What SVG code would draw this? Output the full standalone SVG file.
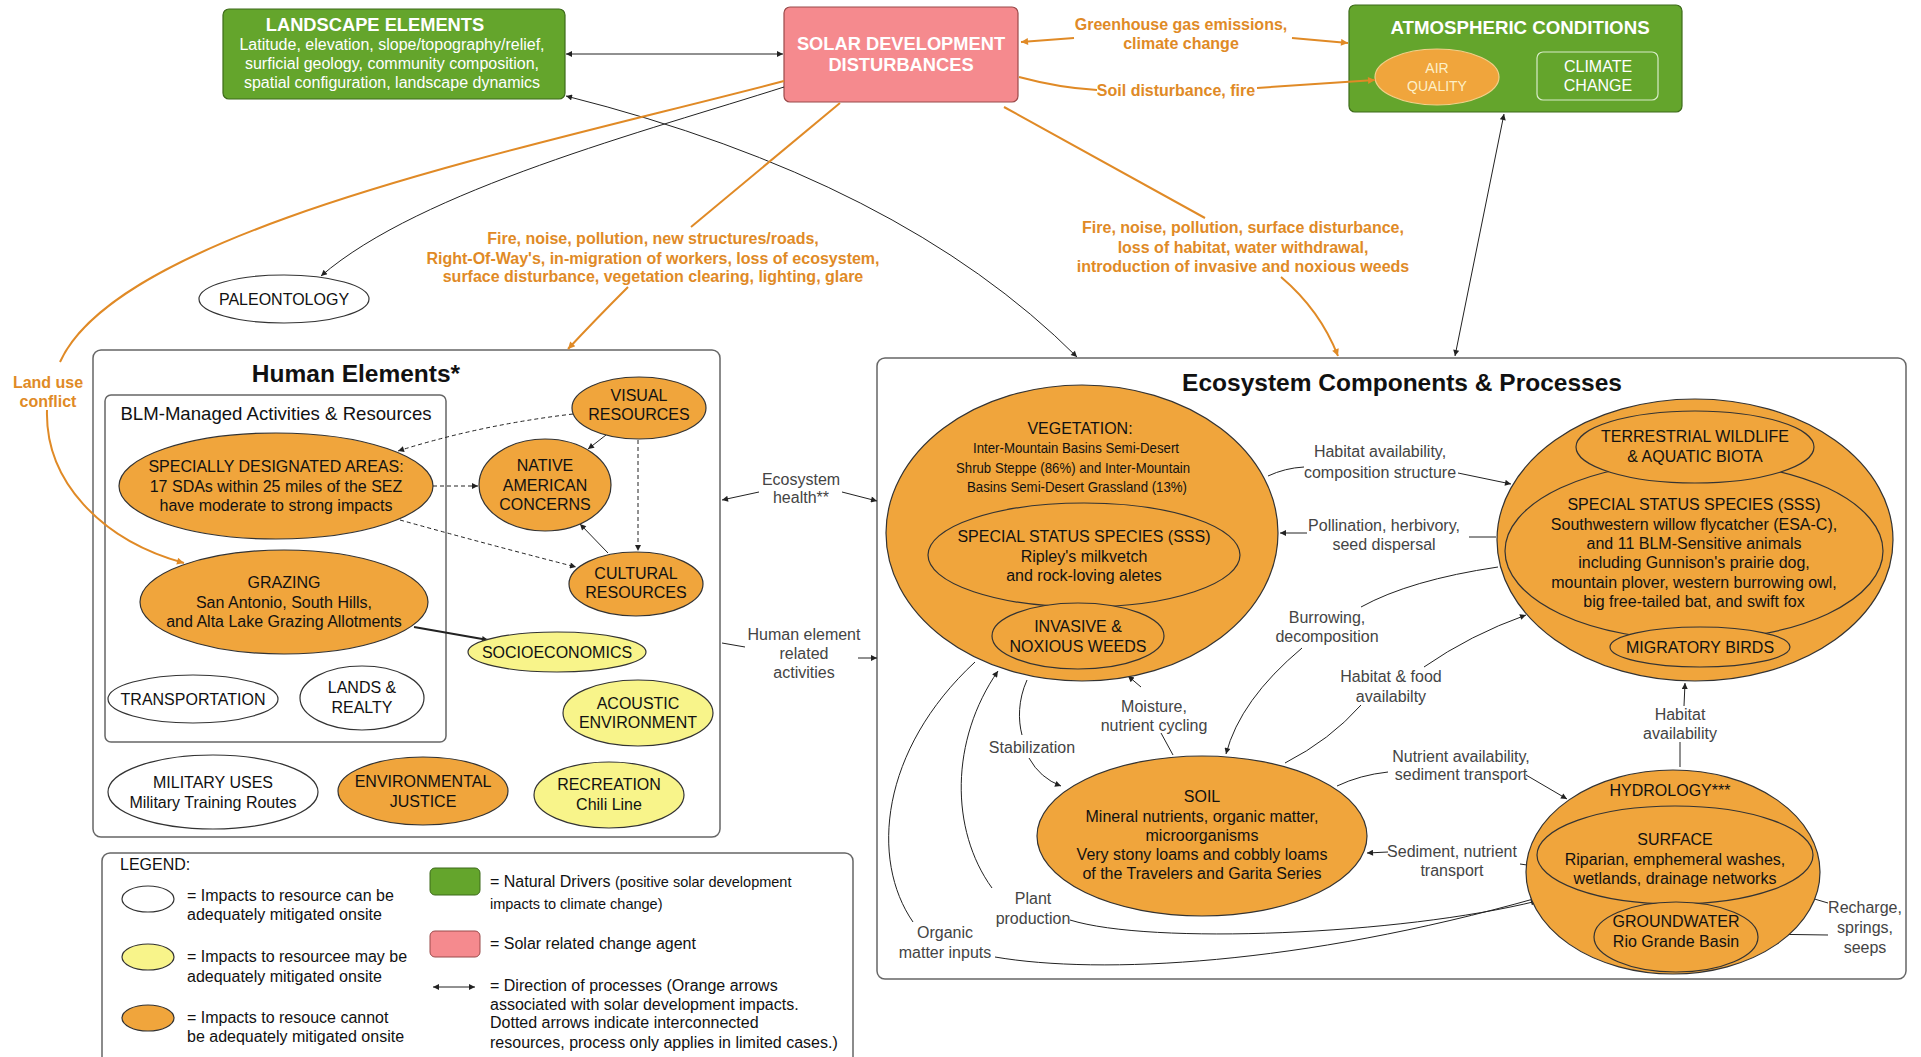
<svg xmlns="http://www.w3.org/2000/svg" width="1921" height="1057" viewBox="0 0 1921 1057">
<defs>
<style>
text{font-family:"Liberation Sans",Arial,sans-serif;}
.t{font-size:16px;text-anchor:middle;fill:#111;}
.ts{font-size:14.5px;text-anchor:middle;fill:#111;}
.p{font-size:16px;text-anchor:middle;fill:#444;}
.ol{font-size:16px;font-weight:bold;text-anchor:middle;fill:#e08a26;}
.wt{font-weight:bold;text-anchor:middle;fill:#fff;}
.lg{font-size:16px;fill:#111;}
.o{fill:#f0a53c;stroke:#333;stroke-width:1.2;}
.y{fill:#f8f48a;stroke:#333;stroke-width:1.2;}
.w{fill:#fff;stroke:#333;stroke-width:1.2;}
.in{fill:none;stroke:#333;stroke-width:1.2;}
.frame{fill:#fff;stroke:#666;stroke-width:1.5;}
.ln{fill:none;stroke:#222;stroke-width:1;}
.dl{fill:none;stroke:#222;stroke-width:1;stroke-dasharray:4 3;}
.on{fill:none;stroke:#e08a26;stroke-width:2;}
</style>
<marker id="ab" viewBox="0 0 10 10" refX="10" refY="5" markerWidth="8" markerHeight="6" orient="auto-start-reverse" markerUnits="userSpaceOnUse"><path d="M0,0 L10,5 L0,10 z" fill="#222"/></marker>
<marker id="ao" viewBox="0 0 10 10" refX="10" refY="5" markerWidth="9" markerHeight="7" orient="auto-start-reverse" markerUnits="userSpaceOnUse"><path d="M0,0 L10,5 L0,10 z" fill="#e08a26"/></marker>
</defs>
<rect width="1921" height="1057" fill="#fff"/>

<!-- frames -->
<rect id="human-elements" class="frame" x="93" y="350" width="627" height="487" rx="8"/>
<text x="356" y="382" style="font-size:24.5px;font-weight:bold;text-anchor:middle;fill:#111">Human Elements*</text>
<rect id="blm-box" class="frame" x="105" y="395" width="341" height="347" rx="6" style="fill:none"/>
<text x="276" y="420" style="font-size:18.6px;text-anchor:middle;fill:#111">BLM-Managed Activities &amp; Resources</text>

<rect id="ecosystem" class="frame" x="877" y="358" width="1029" height="621" rx="8"/>
<text x="1402" y="391" style="font-size:24.5px;font-weight:bold;text-anchor:middle;fill:#111">Ecosystem Components &amp; Processes</text>

<!-- top nodes -->
<g id="landscape-elements">
<rect x="223" y="9" width="342" height="90" rx="6" fill="#64a52c" stroke="#3d6b1a" stroke-width="1.2"/>
<text class="wt" x="375" y="31" style="font-size:18.3px">LANDSCAPE ELEMENTS</text>
<text x="392" y="50" style="font-size:16px;text-anchor:middle;fill:#fff">Latitude, elevation, slope/topography/relief,</text>
<text x="392" y="69" style="font-size:16px;text-anchor:middle;fill:#fff">surficial geology, community composition,</text>
<text x="392" y="88" style="font-size:16px;text-anchor:middle;fill:#fff">spatial configuration, landscape dynamics</text>
</g>
<g id="solar-development">
<rect x="784" y="7" width="234" height="95" rx="6" fill="#f58a8e" stroke="#9a4a4a" stroke-width="1.2"/>
<text class="wt" x="901" y="50" style="font-size:18.3px">SOLAR DEVELOPMENT</text>
<text class="wt" x="901" y="71" style="font-size:18.3px">DISTURBANCES</text>
</g>
<g id="atmospheric-conditions">
<rect x="1349" y="5" width="333" height="107" rx="6" fill="#64a52c" stroke="#3d6b1a" stroke-width="1.2"/>
<text class="wt" x="1520" y="34" style="font-size:18.7px">ATMOSPHERIC CONDITIONS</text>
</g>
<g id="air-quality">
<ellipse cx="1437" cy="77" rx="62" ry="28" fill="#f0a53c" stroke="#f3d08a" stroke-width="1.2"/>
<text x="1437" y="73" style="font-size:14px;text-anchor:middle;fill:#fdf0c8">AIR</text>
<text x="1437" y="91" style="font-size:14px;text-anchor:middle;fill:#fdf0c8">QUALITY</text>
</g>
<g id="climate-change">
<rect x="1537" y="52" width="121" height="48" rx="6" fill="none" stroke="#d8ecc8" stroke-width="1.2"/>
<text x="1598" y="72" style="font-size:16px;text-anchor:middle;fill:#fff">CLIMATE</text>
<text x="1598" y="91" style="font-size:16px;text-anchor:middle;fill:#fff">CHANGE</text>
</g>

<!-- connectors -->
<g id="connectors">
<path class="ln" d="M566,54 L783,54" marker-start="url(#ab)" marker-end="url(#ab)"/>
<path class="ln" d="M566,96 Q900,180 1077,357" marker-start="url(#ab)" marker-end="url(#ab)"/>
<path class="ln" d="M784,87 C650,130 420,190 321,276" marker-end="url(#ab)"/>
<path class="ln" d="M1504,114 L1455,356" marker-start="url(#ab)" marker-end="url(#ab)"/>

<path class="on" d="M1074,38 L1021,42" marker-end="url(#ao)"/>
<path class="on" d="M1292,38 L1348,43" marker-end="url(#ao)"/>
<path class="on" d="M1019,77 Q1060,88 1097,90"/>
<path class="on" d="M1257,88 L1375,80" marker-end="url(#ao)"/>
<path class="on" d="M784,81 C520,150 120,230 60,362"/>
<path class="on" d="M47,410 C45,480 100,540 184,563" marker-end="url(#ao)"/>
<path class="on" d="M840,103 L691,227"/>
<path class="on" d="M628,287 Q595,320 568,349" marker-end="url(#ao)"/>
<path class="on" d="M1004,107 L1205,218"/>
<path class="on" d="M1281,277 Q1320,310 1338,356" marker-end="url(#ao)"/>

<path class="dl" d="M573,414 Q480,425 398,451" marker-end="url(#ab)"/>
<path class="ln" d="M606,435 L588,449" marker-end="url(#ab)"/>
<path class="dl" d="M638,440 L638,551" marker-end="url(#ab)"/>
<path class="dl" d="M433,486 L478,486" marker-end="url(#ab)"/>
<path class="dl" d="M400,520 Q490,545 576,567" marker-end="url(#ab)"/>
<path class="ln" d="M608,553 L580,524" marker-end="url(#ab)"/>
<path class="ln" d="M414,627 L488,640" style="stroke-width:2" marker-end="url(#ab)"/>

<path class="ln" d="M759,492 L722,500" marker-end="url(#ab)"/>
<path class="ln" d="M842,492 L877,501" marker-end="url(#ab)"/>
<path class="ln" d="M722,643 L745,647"/>
<path class="ln" d="M858,658 L877,658" marker-end="url(#ab)"/>

<path class="ln" d="M1268,476 Q1285,468 1304,467"/>
<path class="ln" d="M1458,473 L1511,484" marker-end="url(#ab)"/>
<path class="ln" d="M1496,537 L1469,537"/>
<path class="ln" d="M1307,533 L1280,533" marker-end="url(#ab)"/>
<path class="ln" d="M1498,567 Q1410,580 1361,607"/>
<path class="ln" d="M1302,648 Q1240,700 1226,754" marker-end="url(#ab)"/>
<path class="ln" d="M1285,763 Q1330,740 1361,705"/>
<path class="ln" d="M1424,667 Q1470,635 1526,615" marker-end="url(#ab)"/>
<path class="ln" d="M1173,755 L1161,733"/>
<path class="ln" d="M1141,687 L1128,676" marker-end="url(#ab)"/>
<path class="ln" d="M1027,680 C1018,700 1018,720 1022,735"/>
<path class="ln" d="M1029,758 Q1040,778 1061,786" marker-end="url(#ab)"/>
<path class="ln" d="M992,888 C950,830 950,740 998,671" marker-end="url(#ab)"/>
<path class="ln" d="M1070,920 C1150,945 1400,935 1537,901" marker-end="url(#ab)"/>
<path class="ln" d="M913,922 C870,860 880,750 975,662"/>
<path class="ln" d="M995,957 C1100,975 1300,965 1537,898" marker-end="url(#ab)"/>
<path class="ln" d="M1337,786 Q1360,775 1388,772"/>
<path class="ln" d="M1526,775 L1567,799" marker-end="url(#ab)"/>
<path class="ln" d="M1527,865 L1520,864"/>
<path class="ln" d="M1388,852 L1367,853" marker-end="url(#ab)"/>
<path class="ln" d="M1680,767 L1680,742"/>
<path class="ln" d="M1684,706 L1685,683" marker-end="url(#ab)"/>
<path class="ln" d="M1828,903 L1784,890" marker-end="url(#ab)"/>
<path class="ln" d="M1828,935 L1757,934" marker-end="url(#ab)"/>
</g>

<!-- connector labels -->
<g id="labels">
<text class="ol" x="1181" y="30">Greenhouse gas emissions,</text>
<text class="ol" x="1181" y="49">climate change</text>
<text class="ol" x="1176" y="96">Soil disturbance, fire</text>
<text class="ol" x="48" y="388">Land use</text>
<text class="ol" x="48" y="407">conflict</text>
<text class="ol" x="653" y="244">Fire, noise, pollution, new structures/roads,</text>
<text class="ol" x="653" y="264">Right-Of-Way's, in-migration of workers, loss of ecosystem,</text>
<text class="ol" x="653" y="282">surface disturbance, vegetation clearing, lighting, glare</text>
<text class="ol" x="1243" y="233">Fire, noise, pollution, surface disturbance,</text>
<text class="ol" x="1243" y="253">loss of habitat, water withdrawal,</text>
<text class="ol" x="1243" y="272">introduction of invasive and noxious weeds</text>
<text class="p" x="801" y="485">Ecosystem</text>
<text class="p" x="801" y="503">health**</text>
<text class="p" x="804" y="640">Human element</text>
<text class="p" x="804" y="659">related</text>
<text class="p" x="804" y="678">activities</text>
<text class="p" x="1380" y="457">Habitat availability,</text>
<text class="p" x="1380" y="478">composition structure</text>
<text class="p" x="1384" y="531">Pollination, herbivory,</text>
<text class="p" x="1384" y="550">seed dispersal</text>
<text class="p" x="1327" y="623">Burrowing,</text>
<text class="p" x="1327" y="642">decomposition</text>
<text class="p" x="1391" y="682">Habitat &amp; food</text>
<text class="p" x="1391" y="702">availabilty</text>
<text class="p" x="1154" y="712">Moisture,</text>
<text class="p" x="1154" y="731">nutrient cycling</text>
<text class="p" x="1032" y="753">Stabilization</text>
<text class="p" x="1033" y="904">Plant</text>
<text class="p" x="1033" y="924">production</text>
<text class="p" x="945" y="938">Organic</text>
<text class="p" x="945" y="958">matter inputs</text>
<text class="p" x="1461" y="762">Nutrient availability,</text>
<text class="p" x="1461" y="780">sediment transport</text>
<text class="p" x="1452" y="857">Sediment, nutrient</text>
<text class="p" x="1452" y="876">transport</text>
<text class="p" x="1680" y="720">Habitat</text>
<text class="p" x="1680" y="739">availability</text>
<text class="p" x="1865" y="913">Recharge,</text>
<text class="p" x="1865" y="933">springs,</text>
<text class="p" x="1865" y="953">seeps</text>
</g>

<g id="paleontology">
<ellipse class="w" cx="284" cy="299" rx="85" ry="24"/>
<text class="t" x="284" y="305">PALEONTOLOGY</text>
</g>

<!-- human elements nodes -->
<g id="sda">
<ellipse class="o" cx="276" cy="486" rx="157" ry="53"/>
<text class="t" x="276" y="472">SPECIALLY DESIGNATED AREAS:</text>
<text class="t" x="276" y="492">17 SDAs within 25 miles of the SEZ</text>
<text class="t" x="276" y="511">have moderate to strong impacts</text>
</g>
<g id="native-american">
<ellipse class="o" cx="545" cy="485" rx="66" ry="46"/>
<text class="t" x="545" y="471">NATIVE</text>
<text class="t" x="545" y="491">AMERICAN</text>
<text class="t" x="545" y="510">CONCERNS</text>
</g>
<g id="visual-resources">
<ellipse class="o" cx="639" cy="408" rx="67" ry="31"/>
<text class="t" x="639" y="401">VISUAL</text>
<text class="t" x="639" y="420">RESOURCES</text>
</g>
<g id="cultural-resources">
<ellipse class="o" cx="636" cy="584" rx="67" ry="32"/>
<text class="t" x="636" y="579">CULTURAL</text>
<text class="t" x="636" y="598">RESOURCES</text>
</g>
<g id="grazing">
<ellipse class="o" cx="284" cy="602" rx="144" ry="52"/>
<text class="t" x="284" y="588">GRAZING</text>
<text class="t" x="284" y="608">San Antonio, South Hills,</text>
<text class="t" x="284" y="627">and Alta Lake Grazing Allotments</text>
</g>
<g id="socioeconomics">
<ellipse class="y" cx="557" cy="652" rx="89" ry="20"/>
<text class="t" x="557" y="658">SOCIOECONOMICS</text>
</g>
<g id="transportation">
<ellipse class="w" cx="193" cy="699" rx="85" ry="24"/>
<text class="t" x="193" y="705">TRANSPORTATION</text>
</g>
<g id="lands-realty">
<ellipse class="w" cx="362" cy="698" rx="62" ry="32"/>
<text class="t" x="362" y="693">LANDS &amp;</text>
<text class="t" x="362" y="713">REALTY</text>
</g>
<g id="acoustic">
<ellipse class="y" cx="638" cy="713" rx="75" ry="33"/>
<text class="t" x="638" y="709">ACOUSTIC</text>
<text class="t" x="638" y="728">ENVIRONMENT</text>
</g>
<g id="military">
<ellipse class="w" cx="213" cy="792" rx="105" ry="37"/>
<text class="t" x="213" y="788">MILITARY USES</text>
<text class="t" x="213" y="808">Military Training Routes</text>
</g>
<g id="env-justice">
<ellipse class="o" cx="423" cy="791" rx="85" ry="34"/>
<text class="t" x="423" y="787">ENVIRONMENTAL</text>
<text class="t" x="423" y="807">JUSTICE</text>
</g>
<g id="recreation">
<ellipse class="y" cx="609" cy="795" rx="75" ry="33"/>
<text class="t" x="609" y="790">RECREATION</text>
<text class="t" x="609" y="810">Chili Line</text>
</g>

<!-- ecosystem nodes -->
<g id="vegetation">
<ellipse class="o" cx="1082" cy="533" rx="196" ry="148"/>
<text class="t" x="1080" y="434">VEGETATION:</text>
<text class="ts" x="1076" y="453" textLength="206" lengthAdjust="spacingAndGlyphs">Inter-Mountain Basins Semi-Desert</text>
<text class="ts" x="1073" y="473" textLength="234" lengthAdjust="spacingAndGlyphs">Shrub Steppe (86%) and Inter-Mountain</text>
<text class="ts" x="1077" y="492" textLength="220" lengthAdjust="spacingAndGlyphs">Basins Semi-Desert Grassland (13%)</text>
</g>
<g id="veg-sss">
<ellipse class="in" cx="1084" cy="555" rx="156" ry="52"/>
<text class="t" x="1084" y="542">SPECIAL STATUS SPECIES (SSS)</text>
<text class="t" x="1084" y="562">Ripley's milkvetch</text>
<text class="t" x="1084" y="581">and rock-loving aletes</text>
</g>
<g id="invasive-weeds">
<ellipse class="o" cx="1078" cy="636" rx="86" ry="33"/>
<text class="t" x="1078" y="632">INVASIVE &amp;</text>
<text class="t" x="1078" y="652">NOXIOUS WEEDS</text>
</g>
<g id="wildlife">
<ellipse class="o" cx="1695" cy="540" rx="198" ry="141"/>
</g>
<g id="wildlife-sss">
<ellipse class="in" cx="1694" cy="551" rx="189" ry="89"/>
<text class="t" x="1694" y="510">SPECIAL STATUS SPECIES (SSS)</text>
<text class="t" x="1694" y="530">Southwestern willow flycatcher (ESA-C),</text>
<text class="t" x="1694" y="549">and 11 BLM-Sensitive animals</text>
<text class="t" x="1694" y="568">including Gunnison's prairie dog,</text>
<text class="t" x="1694" y="588">mountain plover, western burrowing owl,</text>
<text class="t" x="1694" y="607">big free-tailed bat, and swift fox</text>
</g>
<g id="terrestrial-wildlife">
<ellipse class="o" cx="1695" cy="447" rx="119" ry="36"/>
<text class="t" x="1695" y="442">TERRESTRIAL WILDLIFE</text>
<text class="t" x="1695" y="462">&amp; AQUATIC BIOTA</text>
</g>
<g id="migratory-birds">
<ellipse class="o" cx="1700" cy="647" rx="90" ry="20"/>
<text class="t" x="1700" y="653">MIGRATORY BIRDS</text>
</g>
<g id="soil">
<ellipse class="o" cx="1202" cy="836" rx="165" ry="80"/>
<text class="t" x="1202" y="802">SOIL</text>
<text class="t" x="1202" y="822">Mineral nutrients, organic matter,</text>
<text class="t" x="1202" y="841">microorganisms</text>
<text class="t" x="1202" y="860">Very stony loams and cobbly loams</text>
<text class="t" x="1202" y="879">of the Travelers and Garita Series</text>
</g>
<g id="hydrology">
<ellipse class="o" cx="1673" cy="872" rx="147" ry="102"/>
<text class="t" x="1670" y="796">HYDROLOGY***</text>
</g>
<g id="surface">
<ellipse class="in" cx="1675" cy="855" rx="138" ry="49"/>
<text class="t" x="1675" y="845">SURFACE</text>
<text class="t" x="1675" y="865">Riparian, emphemeral washes,</text>
<text class="t" x="1675" y="884">wetlands, drainage networks</text>
</g>
<g id="groundwater">
<ellipse class="o" cx="1676" cy="937" rx="82" ry="35"/>
<text class="t" x="1676" y="927">GROUNDWATER</text>
<text class="t" x="1676" y="947">Rio Grande Basin</text>
</g>

<!-- legend -->
<g id="legend">
<rect class="frame" x="102" y="853" width="751" height="220" rx="8"/>
<text class="lg" x="120" y="870">LEGEND:</text>
<ellipse class="w" cx="148" cy="899" rx="26" ry="13"/>
<text class="lg" x="187" y="901">= Impacts to resource can be</text>
<text class="lg" x="187" y="920">adequately mitigated onsite</text>
<ellipse class="y" cx="148" cy="957" rx="26" ry="13"/>
<text class="lg" x="187" y="962">= Impacts to resourcee may be</text>
<text class="lg" x="187" y="982">adequately mitigated onsite</text>
<ellipse class="o" cx="148" cy="1018" rx="26" ry="13"/>
<text class="lg" x="187" y="1023">= Impacts to resouce cannot</text>
<text class="lg" x="187" y="1042">be adequately mitigated onsite</text>
<rect x="430" y="868" width="50" height="27" rx="5" fill="#64a52c" stroke="#3d6b1a"/>
<text class="lg" x="490" y="887">= Natural Drivers <tspan style="font-size:14.5px">(positive solar development</tspan></text>
<text x="490" y="909" style="font-size:14.5px;fill:#111">impacts to climate change)</text>
<rect x="430" y="931" width="50" height="26" rx="5" fill="#f58a8e" stroke="#9a4a4a"/>
<text class="lg" x="490" y="949">= Solar related change agent</text>
<path class="ln" d="M433,987 L475,987" marker-start="url(#ab)" marker-end="url(#ab)"/>
<text class="lg" x="490" y="991">= Direction of processes (Orange arrows</text>
<text class="lg" x="490" y="1010">associated with solar development impacts.</text>
<text class="lg" x="490" y="1028">Dotted arrows indicate interconnected</text>
<text class="lg" x="490" y="1048">resources, process only applies in limited cases.)</text>
</g>
</svg>
